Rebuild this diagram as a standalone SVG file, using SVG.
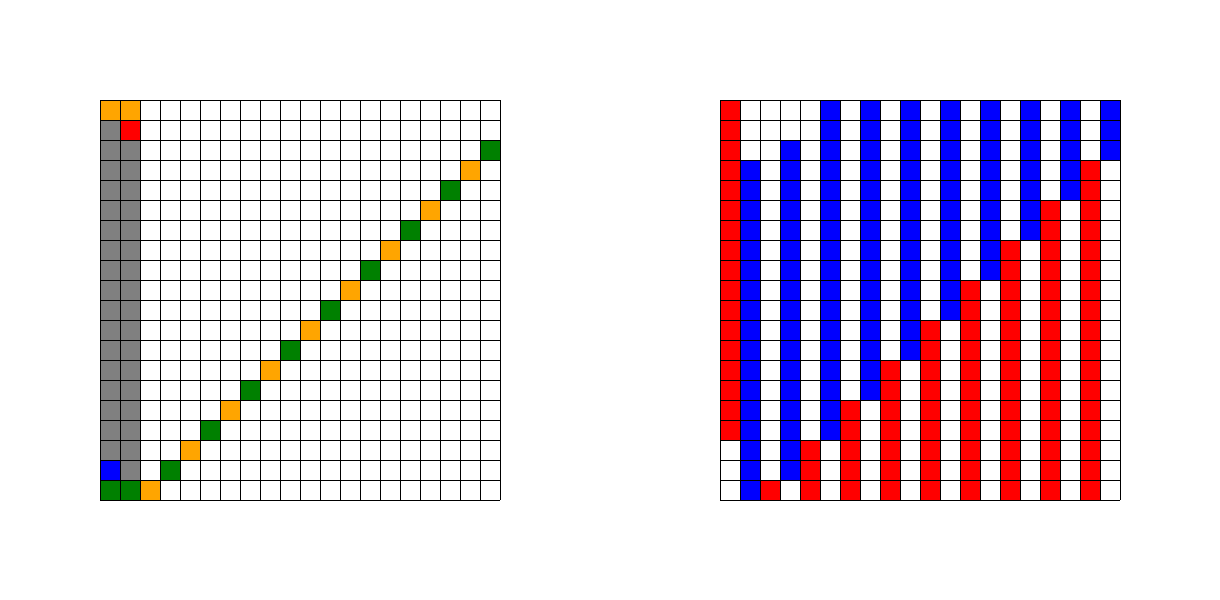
<svg xmlns="http://www.w3.org/2000/svg" width="1220" height="600" viewBox="0 0 1220 600">
<style>
.o{fill:#FFA500}.r{fill:#FF0000}.g{fill:#808080}.b{fill:#0000FF}.n{fill:#008000}
.grid{fill:none;stroke:#000;stroke-width:1;shape-rendering:crispEdges}
rect{shape-rendering:crispEdges}
</style>
<rect x="0" y="0" width="1220" height="600" fill="#fff"/>
<g id="left-grid">
<rect class="o" x="100" y="100" width="40" height="20"/>
<rect class="r" x="120" y="120" width="20" height="20"/>
<rect class="g" x="100" y="120" width="20" height="340"/>
<rect class="g" x="120" y="140" width="20" height="340"/>
<rect class="b" x="100" y="460" width="20" height="20"/>
<rect class="n" x="100" y="480" width="40" height="20"/>
<rect class="o" x="140" y="480" width="20" height="20"/>
<rect class="n" x="160" y="460" width="20" height="20"/>
<rect class="o" x="180" y="440" width="20" height="20"/>
<rect class="n" x="200" y="420" width="20" height="20"/>
<rect class="o" x="220" y="400" width="20" height="20"/>
<rect class="n" x="240" y="380" width="20" height="20"/>
<rect class="o" x="260" y="360" width="20" height="20"/>
<rect class="n" x="280" y="340" width="20" height="20"/>
<rect class="o" x="300" y="320" width="20" height="20"/>
<rect class="n" x="320" y="300" width="20" height="20"/>
<rect class="o" x="340" y="280" width="20" height="20"/>
<rect class="n" x="360" y="260" width="20" height="20"/>
<rect class="o" x="380" y="240" width="20" height="20"/>
<rect class="n" x="400" y="220" width="20" height="20"/>
<rect class="o" x="420" y="200" width="20" height="20"/>
<rect class="n" x="440" y="180" width="20" height="20"/>
<rect class="o" x="460" y="160" width="20" height="20"/>
<rect class="n" x="480" y="140" width="20" height="20"/>
<path class="grid" d="M100 100V500M120 100V500M140 100V500M160 100V500M180 100V500M200 100V500M220 100V500M240 100V500M260 100V500M280 100V500M300 100V500M320 100V500M340 100V500M360 100V500M380 100V500M400 100V500M420 100V500M440 100V500M460 100V500M480 100V500M500 100V500M100 100H500M100 120H500M100 140H500M100 160H500M100 180H500M100 200H500M100 220H500M100 240H500M100 260H500M100 280H500M100 300H500M100 320H500M100 340H500M100 360H500M100 380H500M100 400H500M100 420H500M100 440H500M100 460H500M100 480H500M100 500H500"/>
</g>
<g id="right-grid">
<rect class="r" x="720" y="100" width="20" height="340"/>
<rect class="b" x="740" y="160" width="20" height="340"/>
<rect class="r" x="760" y="480" width="20" height="20"/>
<rect class="b" x="780" y="140" width="20" height="340"/>
<rect class="r" x="800" y="440" width="20" height="60"/>
<rect class="b" x="820" y="100" width="20" height="340"/>
<rect class="r" x="840" y="400" width="20" height="100"/>
<rect class="b" x="860" y="100" width="20" height="300"/>
<rect class="r" x="880" y="360" width="20" height="140"/>
<rect class="b" x="900" y="100" width="20" height="260"/>
<rect class="r" x="920" y="320" width="20" height="180"/>
<rect class="b" x="940" y="100" width="20" height="220"/>
<rect class="r" x="960" y="280" width="20" height="220"/>
<rect class="b" x="980" y="100" width="20" height="180"/>
<rect class="r" x="1000" y="240" width="20" height="260"/>
<rect class="b" x="1020" y="100" width="20" height="140"/>
<rect class="r" x="1040" y="200" width="20" height="300"/>
<rect class="b" x="1060" y="100" width="20" height="100"/>
<rect class="r" x="1080" y="160" width="20" height="340"/>
<rect class="b" x="1100" y="100" width="20" height="60"/>
<path class="grid" d="M720 100V500M740 100V500M760 100V500M780 100V500M800 100V500M820 100V500M840 100V500M860 100V500M880 100V500M900 100V500M920 100V500M940 100V500M960 100V500M980 100V500M1000 100V500M1020 100V500M1040 100V500M1060 100V500M1080 100V500M1100 100V500M1120 100V500M720 100H1120M720 120H1120M720 140H1120M720 160H1120M720 180H1120M720 200H1120M720 220H1120M720 240H1120M720 260H1120M720 280H1120M720 300H1120M720 320H1120M720 340H1120M720 360H1120M720 380H1120M720 400H1120M720 420H1120M720 440H1120M720 460H1120M720 480H1120M720 500H1120"/>
</g>
</svg>
